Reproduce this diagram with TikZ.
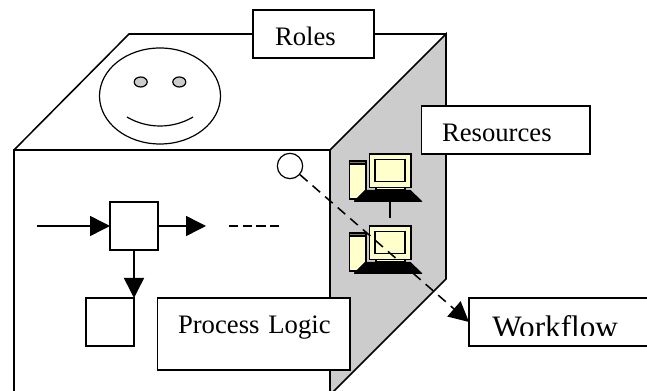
\documentclass[tikz,border=0pt]{standalone}
\usepackage{fontspec}
\setmainfont{Liberation Serif}
\usetikzlibrary{arrows.meta}
\definecolor{facegray}{HTML}{CCCCCC}
\definecolor{screenyellow}{HTML}{FFFFCC}
\definecolor{towerband}{HTML}{808060}
\tikzset{
    edge/.style={line width=1.15pt},
    label box/.style n args={4}{draw, fill=white, line width=1.15pt, outer sep=0pt, anchor=north west,
        inner ysep=0pt, inner xsep=#2, text width=#1-2*#2, align=left, text height=#3, text depth=#4},
    step box/.style={draw, fill=white, line width=1.15pt, outer sep=0pt, minimum size=36pt, inner sep=0pt},
    flow/.style={edge, -{Triangle[length=15pt, width=15pt]}},
    dash line/.style={edge, dash pattern=on 7pt off 3.2pt},
}
% one computer, (0,0) is the top left of the monitor
\newcommand{\computer}[1]{
    \begin{scope}[shift={#1}, line width=1.15pt]
        \draw[fill=screenyellow] (-20, 7) rectangle (-3.5, 45); % tower
        \draw[fill=towerband] (-20, 7) rectangle (-3.5, 10);
        \draw[fill=screenyellow] (0, 0) rectangle (41.5, 33.5); % monitor
        \draw[fill=screenyellow] (5.5, 5.5) rectangle (35.5, 27.5);
        \draw[fill=screenyellow] (6.5, 33.5) rectangle (35.5, 36);
        \fill (-4.5, 36) -- (41, 36) -- (52.5, 47) -- (52.5, 48) -- (-15.5, 48) -- (-15.5, 47) -- cycle; % keyboard
    \end{scope}
}
\begin{document}
\begin{tikzpicture}[x=0.75pt, y=-0.75pt, font=\fontsize{20pt}{24pt}\selectfont]
    \useasboundingbox (0, 0) rectangle (647, 391);
    \clip (0, 0) rectangle (647, 391);
    \fill[white] (0, 0) rectangle (647, 391);

    \coordinate (A1) at (14, 150);
    \coordinate (A2) at (330, 150);
    \coordinate (B1) at (129, 34);
    \coordinate (B2) at (446, 34);
    \coordinate (B3) at (446, 279);
    \coordinate (A3) at (333, 392);
    \coordinate (A4) at (14, 392);
    \coordinate (A5) at (330, 392);

    \fill[facegray] (A2) -- (B2) -- (B3) -- (A3) -- (A5) -- cycle; % right
    \draw[edge] (A4) -- (A1) -- (A2) -- (A5); % front
    \draw[edge] (A2) -- (B2) -- (B3) -- (A3); % right
    \draw[edge] (A1) -- (B1) -- (B2); % top

    % face
    \draw[line width=0.9pt] (160, 96) ellipse (60.5 and 48);
    \draw[line width=0.9pt, fill=facegray] (140.7, 82) ellipse (6.5 and 5);
    \draw[line width=0.9pt, fill=facegray] (179.3, 82) ellipse (6.5 and 5);
    \draw[line width=0.9pt] (127, 117) .. controls (147, 129) and (173, 129) .. (193, 117);

    % computers
    \computer{(369.5, 154)}
    \computer{(369.5, 226)}
    \coordinate (pcTop) at (390, 201);
    \coordinate (pcEnd) at (390, 218.5);
    \draw[edge] (pcTop) -- (pcEnd);

    % process logic
    \node[step box] (stepA) at (134, 226) {};
    \node[step box] (stepB) at (110, 322) {};
    \coordinate (flowIn) at (37, 226);
    \coordinate (flowOut) at (206, 226);
    \coordinate (dashA) at (229, 226);
    \coordinate (dashB) at (279, 226);
    \draw[flow] (flowIn) -- (stepA.west);
    \draw[flow] (stepA.east) -- (flowOut);
    \draw[dash line] (dashA) -- (dashB);
    \draw[flow] (stepA.south) -- (stepB.north east);

    % labels
    \node[label box={90.75pt}{16.5pt}{26.8pt}{9.2pt}] (roles) at (253, 10) {Roles};
    \node[label box={126.4pt}{15.4pt}{26.8pt}{9.2pt}] (resources) at (421.5, 106) {Resources};
    \node[label box={144.4pt}{15.4pt}{26.5pt}{27.5pt}] (logic) at (157.5, 298) {\mbox{Process Logic}};
    \node[label box={143pt}{17pt}{26.8pt}{9.2pt}] (workflow) at (469, 298) {};
    \begin{scope}
        \clip (471, 299) rectangle (647, 335.5);
        \node[font=\fontsize{23.4pt}{28pt}\selectfont, anchor=base west, inner sep=0pt] (workflowText) at (492, 338) {Workflow};
    \end{scope}

    % link
    \node[draw, circle, line width=0.9pt, minimum size=19pt, inner sep=0pt] (port) at (290, 166) {};
    \draw[edge, dash pattern=on 7.5pt off 5pt, -{Triangle[length=15pt, width=15pt]}] (port) -- (workflow.west);
\end{tikzpicture}
\end{document}
